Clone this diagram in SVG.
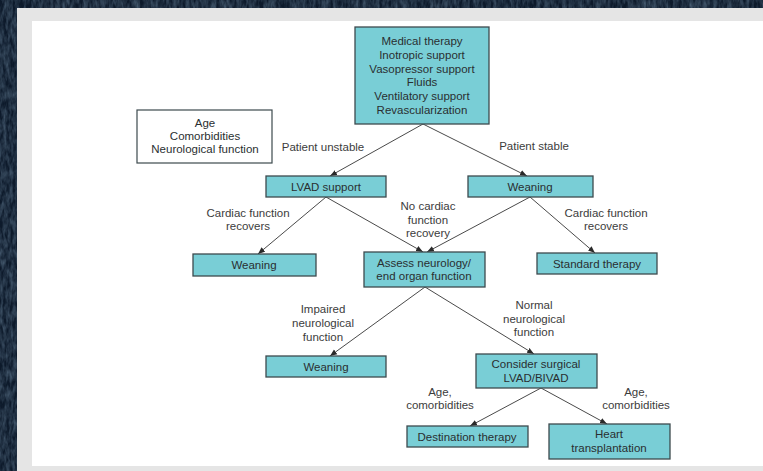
<svg xmlns="http://www.w3.org/2000/svg" width="763" height="471" viewBox="0 0 763 471">
  <defs>
    <style>
      .box { fill: #79ced6; stroke: #3d4a4e; stroke-width: 1.3; }
      .plain { fill: #ffffff; stroke: #3d4a4e; stroke-width: 1.2; }
      .t { font-family: "Liberation Sans", Arial, Helvetica, sans-serif; font-size: 11.5px; fill: #2a2f31; text-anchor: middle; dominant-baseline: central; }
      .lbl { font-family: "Liberation Sans", Arial, Helvetica, sans-serif; font-size: 11.5px; fill: #3c3c3c; text-anchor: middle; dominant-baseline: central; }
      .edge { stroke: #4a4a4a; stroke-width: 1; fill: none; marker-end: url(#arrow); }
    </style>
    <marker id="arrow" viewBox="0 0 10 10" refX="10" refY="5" markerWidth="7" markerHeight="7" markerUnits="userSpaceOnUse" orient="auto">
      <path d="M0,1 L10,5 L0,9 Z" fill="#2a2a2a"/>
    </marker>
    <filter id="grain" x="0" y="0" width="100%" height="100%">
      <feTurbulence type="fractalNoise" baseFrequency="0.3 0.1" numOctaves="3" seed="4" result="n"/>
      <feColorMatrix in="n" type="matrix" values="0 0 0 0 0.15  0 0 0 0 0.24  0 0 0 0 0.34  0 0 0 0.9 -0.25" result="c"/>
      <feComposite in="c" in2="SourceGraphic" operator="in"/>
    </filter>
  </defs>

  <!-- textured navy backdrop -->
  <rect x="0" y="0" width="763" height="471" fill="#0d1a2b"/>
  <rect x="0" y="0" width="763" height="471" fill="#0d1a2b" filter="url(#grain)"/>

  <!-- grey frame and white page -->
  <rect x="17" y="8" width="746" height="463" fill="#e5e5e5"/>
  <rect x="32" y="21" width="731" height="445" fill="#ffffff"/>

  <!-- connectors -->
  <g id="connectors">
    <line class="edge" x1="423" y1="124" x2="330" y2="176"/>
    <line class="edge" x1="423" y1="124" x2="527" y2="176"/>
    <line class="edge" x1="326" y1="197" x2="258" y2="254"/>
    <line class="edge" x1="326" y1="197" x2="423" y2="252"/>
    <line class="edge" x1="530" y1="197" x2="427" y2="252"/>
    <line class="edge" x1="530" y1="197" x2="595" y2="253"/>
    <line class="edge" x1="425" y1="287" x2="330" y2="356"/>
    <line class="edge" x1="425" y1="287" x2="534" y2="354"/>
    <line class="edge" x1="541" y1="388" x2="470" y2="426"/>
    <line class="edge" x1="541" y1="388" x2="607" y2="424"/>
  </g>

  <!-- edge labels -->
  <g id="edge-labels">
    <text class="lbl" x="323" y="147">Patient unstable</text>
    <text class="lbl" x="534" y="146">Patient stable</text>
    <text class="lbl" x="248" y="213">Cardiac function</text>
    <text class="lbl" x="248" y="226">recovers</text>
    <text class="lbl" x="428" y="206">No cardiac</text>
    <text class="lbl" x="428" y="220">function</text>
    <text class="lbl" x="428" y="233">recovery</text>
    <text class="lbl" x="606" y="213">Cardiac function</text>
    <text class="lbl" x="606" y="226">recovers</text>
    <text class="lbl" x="323" y="309">Impaired</text>
    <text class="lbl" x="323" y="323">neurological</text>
    <text class="lbl" x="323" y="337">function</text>
    <text class="lbl" x="534" y="305">Normal</text>
    <text class="lbl" x="534" y="319">neurological</text>
    <text class="lbl" x="534" y="332">function</text>
    <text class="lbl" x="440" y="392">Age,</text>
    <text class="lbl" x="440" y="405">comorbidities</text>
    <text class="lbl" x="636" y="392">Age,</text>
    <text class="lbl" x="636" y="405">comorbidities</text>
  </g>

  <!-- nodes -->
  <g id="node-medical">
    <rect class="box" x="355" y="27" width="134" height="97"/>
    <text class="t" x="422" y="41">Medical therapy</text>
    <text class="t" x="422" y="55">Inotropic support</text>
    <text class="t" x="422" y="69">Vasopressor support</text>
    <text class="t" x="422" y="82">Fluids</text>
    <text class="t" x="422" y="96">Ventilatory support</text>
    <text class="t" x="422" y="110">Revascularization</text>
  </g>

  <g id="node-factors">
    <rect class="plain" x="137" y="110" width="135" height="53"/>
    <text class="t" x="205" y="123">Age</text>
    <text class="t" x="205" y="136">Comorbidities</text>
    <text class="t" x="205" y="149">Neurological function</text>
  </g>

  <g id="node-lvad">
    <rect class="box" x="266" y="176" width="120" height="21"/>
    <text class="t" x="326" y="187">LVAD support</text>
  </g>

  <g id="node-weaning-top">
    <rect class="box" x="468" y="176" width="125" height="21"/>
    <text class="t" x="530" y="187">Weaning</text>
  </g>

  <g id="node-weaning-left">
    <rect class="box" x="193" y="254" width="123" height="22"/>
    <text class="t" x="254" y="265">Weaning</text>
  </g>

  <g id="node-assess">
    <rect class="box" x="364" y="252" width="121" height="35"/>
    <text class="t" x="424" y="263">Assess neurology/</text>
    <text class="t" x="424" y="276">end organ function</text>
  </g>

  <g id="node-standard">
    <rect class="box" x="537" y="253" width="120" height="21"/>
    <text class="t" x="597" y="264">Standard therapy</text>
  </g>

  <g id="node-weaning-lower">
    <rect class="box" x="266" y="356" width="120" height="21"/>
    <text class="t" x="326" y="367">Weaning</text>
  </g>

  <g id="node-consider">
    <rect class="box" x="476" y="354" width="121" height="34"/>
    <text class="t" x="536" y="364">Consider surgical</text>
    <text class="t" x="536" y="378">LVAD/BIVAD</text>
  </g>

  <g id="node-destination">
    <rect class="box" x="407" y="426" width="121" height="21"/>
    <text class="t" x="467" y="437">Destination therapy</text>
  </g>

  <g id="node-heart">
    <rect class="box" x="549" y="424" width="121" height="35"/>
    <text class="t" x="609" y="434">Heart</text>
    <text class="t" x="609" y="448">transplantation</text>
  </g>
</svg>
